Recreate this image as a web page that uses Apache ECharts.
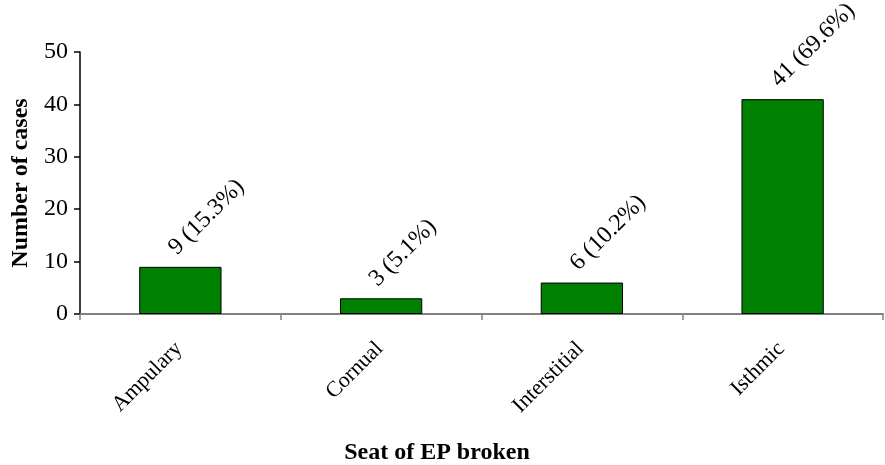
<!DOCTYPE html>
<html>
<head>
<meta charset="utf-8">
<script src="https://cdn.jsdelivr.net/npm/echarts@6/dist/echarts.min.js"></script>
<style>
  html, body { margin: 0; padding: 0; background: #fff; }
  #chart { width: 885px; height: 465px; }
</style>
</head>
<body>
<div id="chart"></div>
<script>
// Sites where the ectopic pregnancy ruptured
const categories = ['Ampulary', 'Cornual', 'Interstitial', 'Isthmic'];
const cases = [9, 3, 6, 41];
const percents = ['15.3', '5.1', '10.2', '69.6'];
const yTicks = [0, 10, 20, 30, 40, 50];

const serif = '"Liberation Serif", "Times New Roman", serif';

const chart = echarts.init(document.getElementById('chart'), null, { renderer: 'canvas' });

chart.setOption({
  animation: false,
  backgroundColor: '#ffffff',
  title: {
    text: 'Seat of EP broken',
    left: 432,
    top: 436,
    textAlign: 'center',
    textStyle: { fontFamily: serif, fontSize: 24, fontWeight: 'bold', color: '#000' }
  },
  grid: { left: 80, right: 2, top: 52, bottom: 151, containLabel: false, outerBoundsMode: 'none' },
  xAxis: {
    type: 'category',
    data: categories,
    axisLine: { lineStyle: { color: '#808080', width: 2 } },
    axisTick: { show: true, alignWithLabel: false, length: 6, lineStyle: { color: '#808080', width: 1.5 } },
    axisLabel: {
      rotate: 45,
      margin: 30,
      padding: [0, 2, 0, 0],
      fontFamily: serif,
      fontSize: 22,
      color: '#000'
    }
  },
  yAxis: {
    type: 'value',
    min: yTicks[0],
    max: yTicks[yTicks.length - 1],
    interval: 10,
    name: 'Number of cases',
    nameLocation: 'middle',
    nameGap: 44,
    nameTextStyle: { fontFamily: serif, fontSize: 24, fontWeight: 'bold', color: '#000' },
    axisLine: { show: true, lineStyle: { color: '#000', width: 1.5 } },
    axisTick: { show: true, length: 6, lineStyle: { color: '#000', width: 1.5 } },
    splitLine: { show: false },
    axisLabel: { margin: 12, fontFamily: serif, fontSize: 24, color: '#000' }
  },
  series: [{
    type: 'bar',
    data: cases,
    barWidth: '41%',
    itemStyle: { color: '#008000', borderColor: '#000', borderWidth: 1 },
    label: {
      show: true,
      position: 'top',
      rotate: 45,
      align: 'left',
      verticalAlign: 'middle',
      distance: 8,
      offset: [0, -11],
      fontFamily: serif,
      fontSize: 24,
      color: '#000',
      formatter: p => cases[p.dataIndex] + ' (' + percents[p.dataIndex] + '%)'
    }
  }]
});
</script>
</body>
</html>
